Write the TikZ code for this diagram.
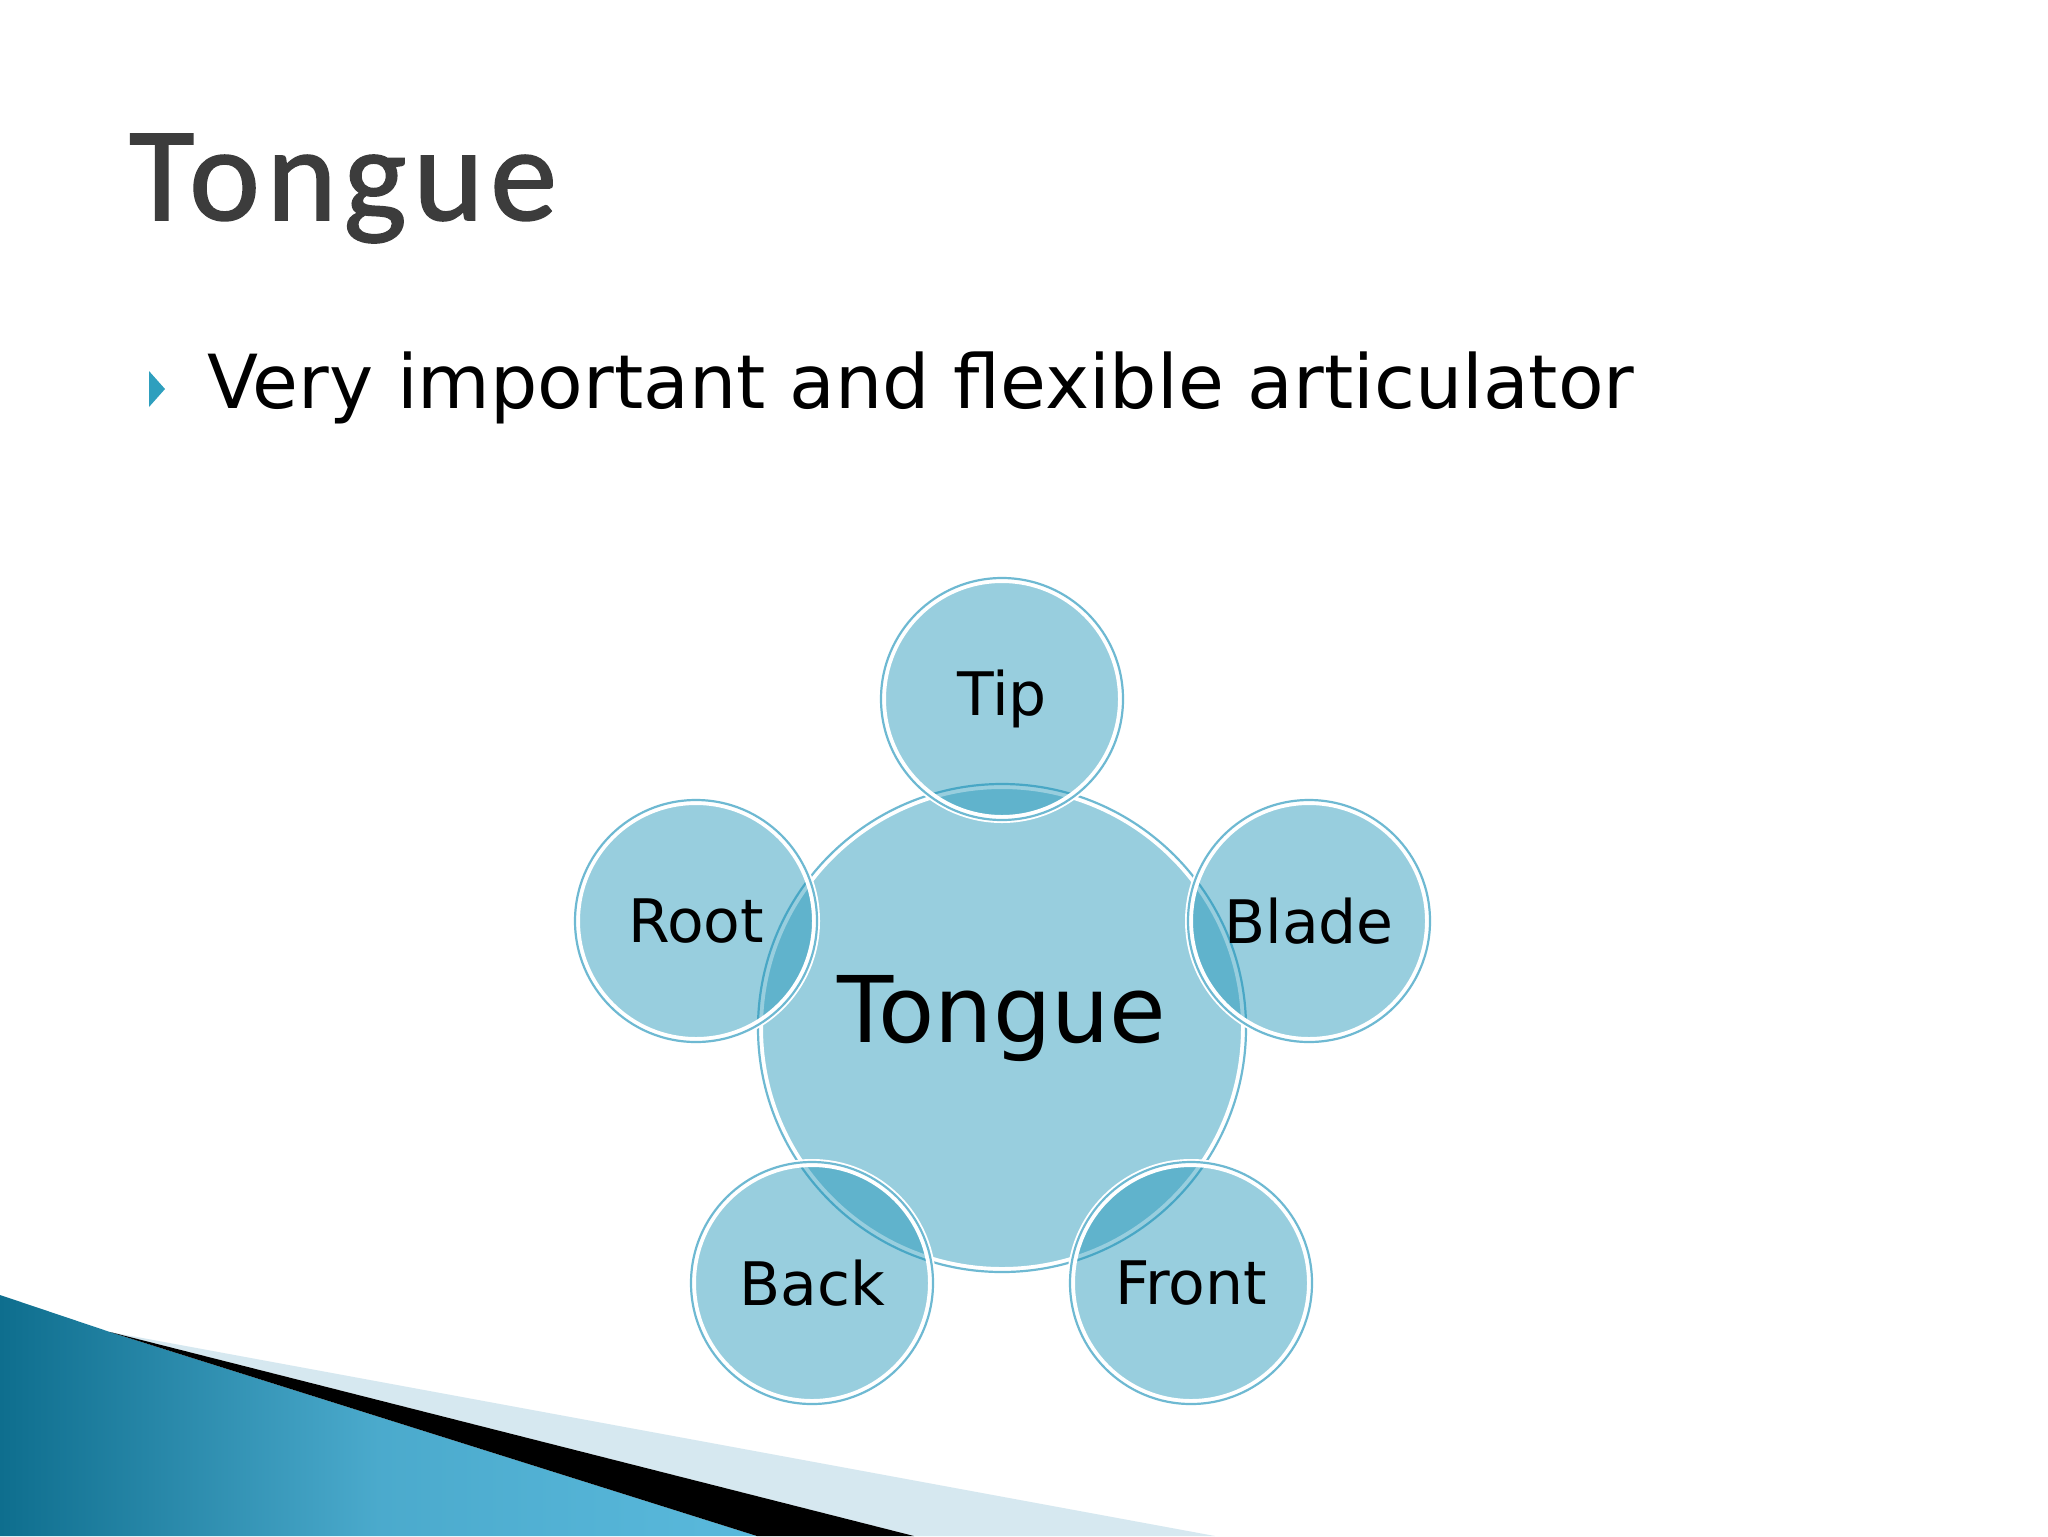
\documentclass[tikz,border=0pt]{standalone}
\usepackage{fontspec}
\setmainfont{DejaVu Sans}
\newfontfamily\titlefont[LetterSpace=5,FakeBold=1.2]{Carlito}
\usetikzlibrary{calc}
\definecolor{circfill}{RGB}{28,147,183}
\definecolor{rimblue}{RGB}{110,185,210}
\definecolor{titlegray}{RGB}{60,60,60}
\definecolor{bulletblue}{RGB}{46,159,190}
\definecolor{bandlight}{RGB}{214,232,240}
\definecolor{decodark}{RGB}{14,110,142}
\definecolor{decolight}{RGB}{90,185,220}
\tikzset{
  bubble/.style={circle, inner sep=0pt, font=\fontsize{30}{36}\selectfont},
  rimwhite/.style={draw=white, line width=4pt},
  rimline/.style={draw=rimblue, line width=1.1pt},
  softfill/.style={fill=circfill, fill opacity=0.45},
}
\begin{document}
\begin{tikzpicture}[x=0.5pt,y=-0.5pt]
\useasboundingbox (0,0) rectangle (2048,1536);
\fill[white] (0,0) rectangle (2048,1536);

% decoration bottom-left
\fill[bandlight] (110,1332) -- (1215,1536) -- (914,1536) -- cycle;
\shade[left color=decodark, right color=decolight, middle color=decolight!80!decodark]
  (0,1295) -- (110,1332) -- (757,1536) -- (0,1536) -- cycle;
\fill[black] (110,1332) -- (914,1536) -- (757,1536) -- cycle;

% title
\node[anchor=base west, text=titlegray, font=\titlefont\fontsize{67}{80}\selectfont] (title) at (122,220) {Tongue};

% bullet
\fill[bulletblue] (149,371) -- (165,389) -- (149,407) -- cycle;
\node[anchor=base west, inner sep=0pt, font=\fontsize{37.3}{45}\selectfont] (bullet) at (207,408) {Very important and flexible articulator};

% circles
\foreach \name/\x/\y/\r in {big/1002/1028/243, tip/1002/699/120, blade/1309/921/120, front/1191/1283/120, back/812/1283/120, root/696/921/120}{
  \path[softfill] (\x,\y) circle[radius=\r];
  \path[rimwhite] (\x,\y) circle[radius=\r];
  \path[rimline] (\x,\y) circle[radius=\r+1];
  \node[bubble, minimum size=2*\r*0.5pt] (\name) at (\x,\y) {};
}
\node[font=\fontsize{46}{54}\selectfont] (tonguelbl) at (1002,1019) {Tongue};
\node[font=\fontsize{30}{36}\selectfont] (tiplbl) at (tip) {Tip};
\node[font=\fontsize{30}{36}\selectfont] (bladelbl) at (blade) {Blade};
\node[font=\fontsize{30}{36}\selectfont] (frontlbl) at (front) {Front};
\node[font=\fontsize{30}{36}\selectfont] (backlbl) at (back) {Back};
\node[font=\fontsize{30}{36}\selectfont] (rootlbl) at (root) {Root};
\end{tikzpicture}
\end{document}
